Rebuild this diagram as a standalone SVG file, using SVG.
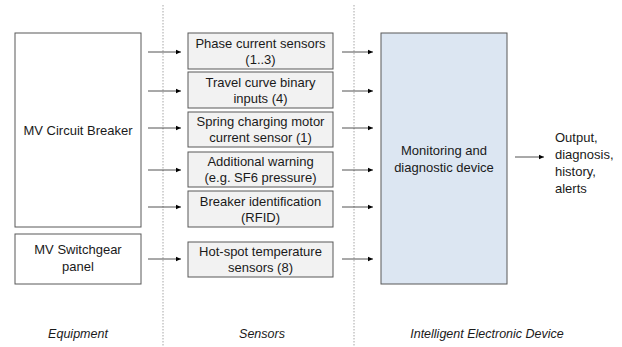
<svg xmlns="http://www.w3.org/2000/svg" width="622" height="347" viewBox="0 0 622 347">
<defs>
<marker id="ah" markerWidth="6" markerHeight="6" refX="5" refY="3" orient="auto" markerUnits="userSpaceOnUse">
<path d="M0,0.8 L5,3 L0,5.2 Z" fill="#000"/>
</marker>
<style>
text{font-family:"Liberation Sans",Arial,sans-serif;font-size:13px;fill:#1a1a1a;text-anchor:middle}
.eq{fill:#fff;stroke:#595959;stroke-width:1}
.sn{fill:#f2f2f2;stroke:#595959;stroke-width:1}
.ied{fill:#dce6f2;stroke:#595959;stroke-width:1}
.div{stroke:#a6a6a6;stroke-width:1;stroke-dasharray:1.5 1.5;fill:none}
.ar{stroke:#262626;stroke-width:0.8;fill:none;marker-end:url(#ah)}
.it{font-style:italic;font-size:12.5px}
.ls{text-anchor:start}
</style>
</defs>
<rect width="622" height="347" fill="#fff"/>
<g id="dividers">
<line class="div" x1="163" y1="5" x2="163" y2="347"/>
<line class="div" x1="354" y1="5" x2="354" y2="347"/>
</g>
<g id="cb"><rect class="eq" x="15" y="33" width="126" height="194"/><text x="78" y="135">MV Circuit Breaker</text></g>
<g id="sg"><rect class="eq" x="15" y="234" width="126" height="50"/><text x="78" y="254">MV Switchgear</text><text x="78" y="271">panel</text></g>
<g id="s1"><rect class="sn" x="188" y="33" width="145" height="36"/><text x="260.5" y="48">Phase current sensors</text><text x="260.5" y="64">(1..3)</text></g>
<g id="s2"><rect class="sn" x="188" y="72" width="145" height="36"/><text x="260.5" y="87">Travel curve binary</text><text x="260.5" y="103">inputs (4)</text></g>
<g id="s3"><rect class="sn" x="188" y="112" width="145" height="35"/><text x="260.5" y="126">Spring charging motor</text><text x="260.5" y="142">current sensor (1)</text></g>
<g id="s4"><rect class="sn" x="188" y="152" width="145" height="35"/><text x="260.5" y="166">Additional warning</text><text x="260.5" y="182">(e.g. SF6 pressure)</text></g>
<g id="s5"><rect class="sn" x="188" y="191" width="145" height="36"/><text x="260.5" y="206">Breaker identification</text><text x="260.5" y="222">(RFID)</text></g>
<g id="s6"><rect class="sn" x="188" y="242" width="145" height="35"/><text x="260.5" y="256">Hot-spot temperature</text><text x="260.5" y="272">sensors (8)</text></g>
<g id="ied"><rect class="ied" x="381" y="33" width="126" height="251"/><text x="444" y="155">Monitoring and</text><text x="444" y="172">diagnostic device</text></g>
<g id="out"><text class="ls" x="555" y="142">Output,</text><text class="ls" x="555" y="159">diagnosis,</text><text class="ls" x="555" y="176">history,</text><text class="ls" x="555" y="193">alerts</text></g>
<g id="connectors">
<line class="ar" x1="148" y1="52" x2="181" y2="52"/>
<line class="ar" x1="148" y1="91" x2="181" y2="91"/>
<line class="ar" x1="148" y1="128" x2="181" y2="128"/>
<line class="ar" x1="148" y1="170" x2="181" y2="170"/>
<line class="ar" x1="148" y1="207" x2="181" y2="207"/>
<line class="ar" x1="148" y1="259" x2="181" y2="259"/>
<line class="ar" x1="342" y1="52" x2="373" y2="52"/>
<line class="ar" x1="342" y1="91" x2="373" y2="91"/>
<line class="ar" x1="342" y1="128" x2="373" y2="128"/>
<line class="ar" x1="342" y1="170" x2="373" y2="170"/>
<line class="ar" x1="342" y1="207" x2="373" y2="207"/>
<line class="ar" x1="342" y1="259" x2="373" y2="259"/>
<line class="ar" x1="515" y1="157" x2="544" y2="157"/>
</g>
<g id="labels">
<text class="it" x="78" y="338">Equipment</text>
<text class="it" x="262" y="338">Sensors</text>
<text class="it" x="487" y="338">Intelligent Electronic Device</text>
</g>
</svg>
